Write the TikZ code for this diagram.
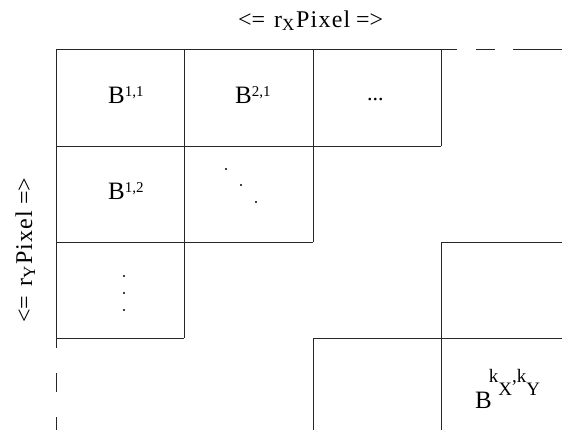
\documentclass[tikz,border=0pt]{standalone}
\usepackage{fontspec}
\setmainfont{Liberation Serif}
\newfontfamily\widetop[LetterSpace=5]{Liberation Serif}
\begin{document}
\begin{tikzpicture}[x=1pt,y=-1pt,
  grid/.style={line width=0.9pt, draw=black!85},
  blab/.style={font=\fontsize{25}{27}\selectfont, inner sep=0pt, anchor=base west},
  axlab/.style={font=\fontsize{24}{26}\selectfont, inner sep=0pt, anchor=base west},
  axsub/.style={font=\fontsize{17}{18}\selectfont, inner sep=0pt, anchor=base west},
  dotmark/.style={fill=black, circle, inner sep=0pt, minimum size=2.4pt}]
\useasboundingbox (0,0) rectangle (562,430);
% frame lines
\draw[grid] (56,49) -- (457,49);
\draw[grid] (476,49) -- (495,49);
\draw[grid] (513,49) -- (562,49);
\draw[grid] (56,49) -- (56,348);
\draw[grid] (56,373) -- (56,392);
\draw[grid] (56,417) -- (56,430);
% inner grid
\draw[grid] (184,49) -- (184,338);
\draw[grid] (313,49) -- (313,242);
\draw[grid] (441,49) -- (441,146);
\draw[grid] (56,146) -- (441,146);
\draw[grid] (56,242) -- (313,242);
\draw[grid] (56,338) -- (184,338);
% right boxes
\draw[grid] (441,430) -- (441,242) -- (562,242);
\draw[grid] (313,430) -- (313,338) -- (562,338);
% top axis label
\node[axlab] (lxa) at (238,28) {<=};
\node[axlab] (lxr) at (274,28) {r};
\node[axsub] (lxs) at (282,31) {X};
\node[axlab] (lxp) at (296,28) {\widetop Pixel};
\node[axlab] (lxb) at (356,28) {=>};
% side axis label
\node[axlab, rotate=90] (lya) at (32,323) {<=};
\node[axlab, rotate=90] (lyr) at (32,287) {r};
\node[axsub, rotate=90] (lys) at (35,279) {Y};
\node[axlab, rotate=90] (lyp) at (32,265) {\widetop Pixel};
\node[axlab, rotate=90] (lyb) at (32,205) {=>};
% block labels
\node[blab] (b11) at (108,104) {B\raisebox{7pt}{\fontsize{15}{15}\selectfont 1,1}};
\node[blab] (b21) at (235,104) {B\raisebox{7pt}{\fontsize{15}{15}\selectfont 2,1}};
\node[blab, font=\fontsize{22}{24}\selectfont] (hd) at (367,101) {...};
\node[blab] (b12) at (108,200) {B\raisebox{7pt}{\fontsize{15}{15}\selectfont 1,2}};
\node[blab] (bk) at (475,408) {B\kern-3pt\raisebox{26pt}{\fontsize{19}{19}\selectfont k\raisebox{-13pt}{X},k\raisebox{-13pt}{Y}}};
% diagonal dots
\node[dotmark] (d1) at (226,169) {};
\node[dotmark] (d2) at (241,185) {};
\node[dotmark] (d3) at (256,202) {};
% vertical dots
\node[dotmark] (v1) at (124,276) {};
\node[dotmark] (v2) at (124,293) {};
\node[dotmark] (v3) at (124,310) {};
\end{tikzpicture}
\end{document}
